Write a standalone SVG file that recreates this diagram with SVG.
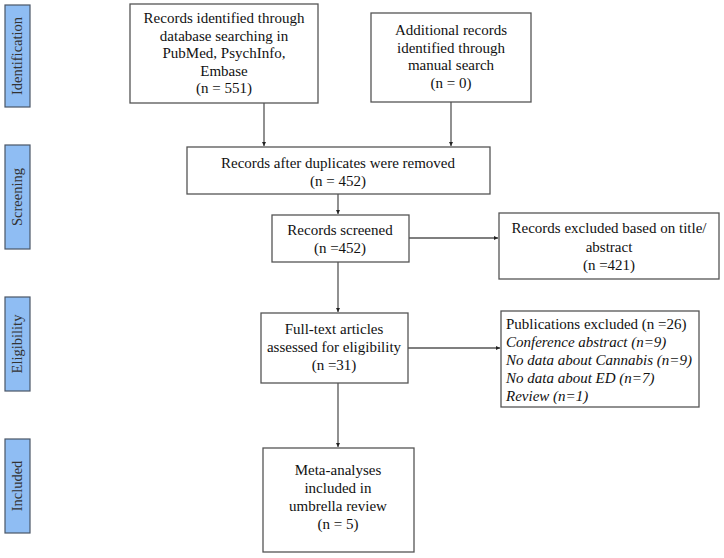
<svg xmlns="http://www.w3.org/2000/svg" width="724" height="558" viewBox="0 0 724 558">
<defs>
<style>
.side{fill:#8fbdf3;stroke:#4a5566;stroke-width:1.2}
.sidet{font-family:"Liberation Serif","Times New Roman",serif;font-size:14.5px;fill:#333;text-anchor:middle}
.box{fill:#fff;stroke:#555;stroke-width:1.3}
.t{font-family:"Liberation Serif","Times New Roman",serif;font-size:15px;fill:#111;text-anchor:middle}
.tl{font-family:"Liberation Serif","Times New Roman",serif;font-size:15px;fill:#111}
.it{font-style:italic}
.ln{stroke:#555;stroke-width:1.3;fill:none;marker-end:url(#ah)}
</style>
<marker id="ah" viewBox="0 0 4 4" refX="4" refY="2" markerWidth="4" markerHeight="4" markerUnits="userSpaceOnUse" orient="auto">
<path d="M0,0 L4,2 L0,4 Z" fill="#222"/>
</marker>
</defs>
<rect width="724" height="558" fill="#fff"/>
<g id="side-identification"><rect class="side" x="5" y="5" width="25" height="102"/><text class="sidet" transform="translate(22,56) rotate(-90)">Identification</text></g>
<g id="side-screening"><rect class="side" x="5" y="145" width="25" height="104"/><text class="sidet" transform="translate(22,197) rotate(-90)">Screening</text></g>
<g id="side-eligibility"><rect class="side" x="5" y="297" width="25" height="94"/><text class="sidet" transform="translate(22,344) rotate(-90)">Eligibility</text></g>
<g id="side-included"><rect class="side" x="5" y="439" width="25" height="94"/><text class="sidet" transform="translate(22,486) rotate(-90)">Included</text></g>
<g id="connectors">
<path class="ln" d="M264,103 V146"/>
<path class="ln" d="M451,102 V146"/>
<path class="ln" d="M338,194 V214"/>
<path class="ln" d="M409,238 H498"/>
<path class="ln" d="M338,262 V312"/>
<path class="ln" d="M408,348 H500"/>
<path class="ln" d="M338,383 V447"/>
</g>
<g id="n1"><rect class="box" x="130" y="4" width="188" height="99"/>
<text class="t" x="224" y="23">Records identified through</text>
<text class="t" x="224" y="41">database searching in</text>
<text class="t" x="224" y="58">PubMed, PsychInfo,</text>
<text class="t" x="224" y="76">Embase</text>
<text class="t" x="224" y="93">(n = 551)</text></g>
<g id="n2"><rect class="box" x="371" y="13" width="160" height="89"/>
<text class="t" x="451" y="35">Additional records</text>
<text class="t" x="451" y="53">identified through</text>
<text class="t" x="451" y="70">manual search</text>
<text class="t" x="451" y="88">(n = 0)</text></g>
<g id="n3"><rect class="box" x="187" y="147" width="303" height="47"/>
<text class="t" x="338" y="168">Records after duplicates were removed</text>
<text class="t" x="338" y="186">(n = 452)</text></g>
<g id="n4"><rect class="box" x="272" y="215" width="137" height="47"/>
<text class="t" x="340" y="235">Records screened</text>
<text class="t" x="340" y="253">(n =452)</text></g>
<g id="n5"><rect class="box" x="499" y="213" width="220" height="66"/>
<text class="t" x="609" y="233">Records excluded based on title/</text>
<text class="t" x="609" y="252">abstract</text>
<text class="t" x="609" y="270">(n =421)</text></g>
<g id="n6"><rect class="box" x="261" y="313" width="147" height="70"/>
<text class="t" x="334" y="334">Full-text articles</text>
<text class="t" x="334" y="352">assessed for eligibility</text>
<text class="t" x="334" y="370">(n =31)</text></g>
<g id="n7"><rect class="box" x="501" y="311" width="198" height="96"/>
<text class="tl" x="506" y="329">Publications excluded (n =26)</text>
<text class="tl it" x="506" y="347">Conference abstract (n=9)</text>
<text class="tl it" x="506" y="365">No data about Cannabis (n=9)</text>
<text class="tl it" x="506" y="383">No data about ED (n=7)</text>
<text class="tl it" x="506" y="401">Review (n=1)</text></g>
<g id="n8"><rect class="box" x="263" y="448" width="151" height="104"/>
<text class="t" x="338" y="475">Meta-analyses</text>
<text class="t" x="338" y="493">included in</text>
<text class="t" x="338" y="511">umbrella review</text>
<text class="t" x="338" y="529">(n = 5)</text></g>
</svg>
